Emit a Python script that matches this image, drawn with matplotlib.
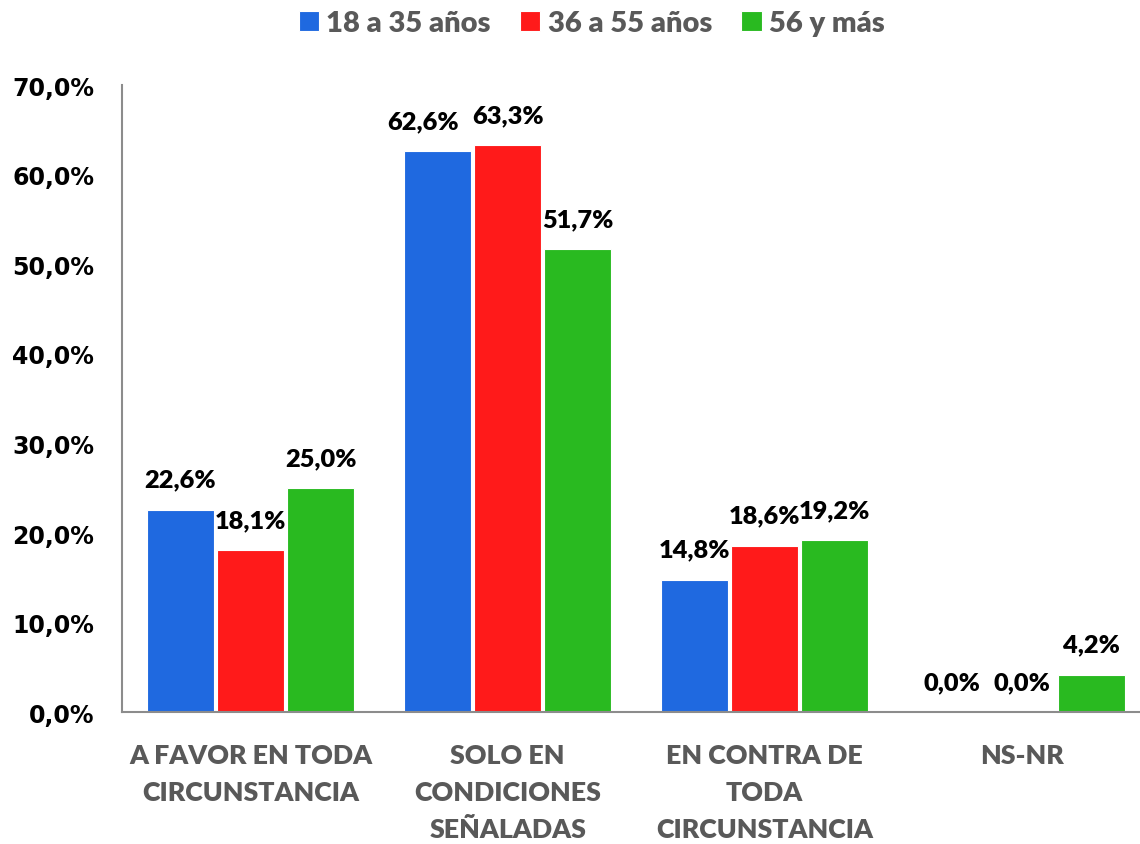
import matplotlib.pyplot as plt
import numpy as np

categories = ["A FAVOR EN TODA\nCIRCUNSTANCIA", "SOLO EN\nCONDICIONES\nSEÑALADAS",
              "EN CONTRA DE\nTODA\nCIRCUNSTANCIA", "NS-NR"]
series_names = ["18 a 35 años", "36 a 55 años", "56 y más"]
values = [
    [22.6, 62.6, 14.8, 0.0],
    [18.1, 63.3, 18.6, 0.0],
    [25.0, 51.7, 19.2, 4.2],
]
colors = ["#1F69E0", "#FF1A1A", "#29BA20"]
yticks = [0, 10, 20, 30, 40, 50, 60, 70]

fig = plt.figure(figsize=(11.4, 8.45), dpi=100)
ax = fig.add_axes([0.107, 0.156, 0.902, 0.742])

x = np.arange(len(categories))
width = 0.261
step = 0.273
for i, (name, vals, c) in enumerate(zip(series_names, values, colors)):
    pos = x + (i - 1) * step
    ax.bar(pos, vals, width, color=c, label=name, edgecolor="white", linewidth=0.8)
    for j, (p, v) in enumerate(zip(pos, vals)):
        # Excel nudged the crowded 62,6% label to the left
        dx = -14 if (i, j) == (0, 1) else 0
        ax.annotate(f"{v:.1f}%".replace(".", ","), (p, v), xytext=(dx, 30),
                    textcoords="offset pixels",
                    ha="center", va="center", fontsize=18.3, fontweight="heavy",
                    family="Lato", color="black")

ax.set_xlim(-0.5, 3.5)
ax.set_ylim(0, 70)
ax.set_yticks(yticks)
ax.set_yticklabels([f"{t:.1f}%".replace(".", ",") for t in yticks],
                   fontsize=17, fontweight="bold", family="DejaVu Sans")
ax.set_xticks(x)
ax.set_xticklabels(categories, fontsize=19.3, fontweight="heavy", family="Lato",
                   color="#595959", linespacing=1.66)
ax.tick_params(axis="both", length=0)
ax.tick_params(axis="y", pad=20)
ax.tick_params(axis="x", pad=22)
for s in ["top", "right"]:
    ax.spines[s].set_visible(False)
for s in ["left", "bottom"]:
    ax.spines[s].set_color("#8C8C8C")
    ax.spines[s].set_linewidth(1.5)

leg = fig.legend(loc="upper center", bbox_to_anchor=(0.519, 1.018), ncol=3, frameon=False,
                 prop={"family": "Lato", "weight": "heavy", "size": 21},
                 handlelength=0.7, handleheight=0.7, handletextpad=0.25, columnspacing=1.0)
for t in leg.get_texts():
    t.set_color("#595959")

fig.savefig("out.png", dpi=100)
